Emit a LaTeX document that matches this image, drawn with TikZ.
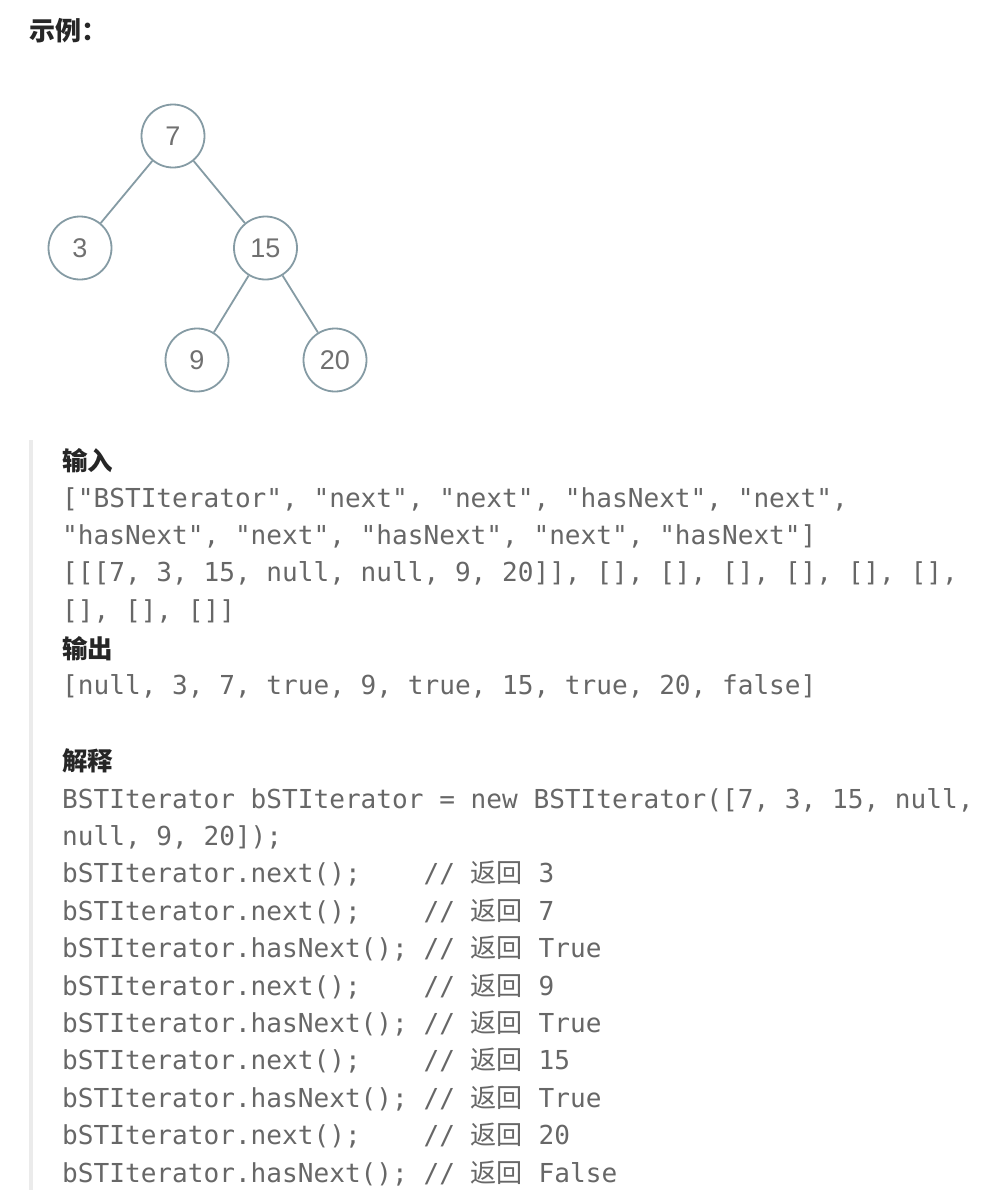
\documentclass[tikz,border=0pt]{standalone}
\usepackage{fontspec}
\setmainfont{Liberation Sans}
\newfontfamily\cjk{Noto Sans CJK SC}
\newfontfamily\mono{DejaVu Sans Mono}
\definecolor{headcol}{HTML}{262626}
\definecolor{codecol}{HTML}{676767}
\definecolor{circcol}{HTML}{859BA4}
\definecolor{digitcol}{HTML}{707070}
\definecolor{barcol}{HTML}{EBEBEB}
\tikzset{
  tnode/.style={circle, draw=circcol, line width=1.8pt, minimum size=63pt, inner sep=0pt,
    text=digitcol, font=\fontsize{27}{30}\selectfont},
  tedge/.style={draw=circcol, line width=1.8pt},
  code/.style={anchor=base west, inner sep=0pt, text=codecol,
    font=\mono\fontsize{26.1}{30}\selectfont},
  head/.style={anchor=base west, inner sep=0pt, text=headcol,
    font=\cjk\bfseries\fontsize{25.5}{30}\selectfont},
}
\begin{document}
\begin{tikzpicture}[x=1pt,y=-1pt]
\fill[white] (0,0) rectangle (993,1203);
\useasboundingbox (0,0) rectangle (993,1203);
% title
\node[head, font=\cjk\bfseries\fontsize{26}{30}\selectfont] (title) at (29,40) {示例：};
% tree
\node[tnode] (n7) at (173,136) {7};
\node[tnode] (n3) at (80,248) {3};
\node[tnode] (n15) at (265.5,248) {15};
\node[tnode] (n9) at (197,360) {9};
\node[tnode] (n20) at (335,360) {20};
\draw[tedge] (n7) -- (n3);
\draw[tedge] (n7) -- (n15);
\draw[tedge] (n15) -- (n9);
\draw[tedge] (n15) -- (n20);
% quote bar
\fill[barcol] (29,440) rectangle (33,1190);
% input
\node[head] (hin) at (62,470) {输入};
\node[code] (l1) at (62,507) {["BSTIterator", "next", "next", "hasNext", "next",};
\node[code] (l2) at (62,544.4) {"hasNext", "next", "hasNext", "next", "hasNext"]};
\node[code] (l3) at (62,581.8) {[[[7, 3, 15, null, null, 9, 20]], [], [], [], [], [], [],};
\node[code] (l4) at (62,619.2) {[], [], []]};
% output
\node[head] (hout) at (62,658) {输出};
\node[code] (l5) at (62,694) {[null, 3, 7, true, 9, true, 15, true, 20, false]};
% explanation
\node[head] (hexp) at (62,770) {解释};
\node[code] (e1) at (62,808) {BSTIterator bSTIterator = new BSTIterator([7, 3, 15, null,};
\node[code] (e2) at (62,845.4) {null, 9, 20]);};
\node[code] (e3) at (62,882.8) {bSTIterator.next();~~~~// {\cjk 返回} 3};
\node[code] (e4) at (62,920.2) {bSTIterator.next();~~~~// {\cjk 返回} 7};
\node[code] (e5) at (62,957.6) {bSTIterator.hasNext();~// {\cjk 返回} True};
\node[code] (e6) at (62,995) {bSTIterator.next();~~~~// {\cjk 返回} 9};
\node[code] (e7) at (62,1032.4) {bSTIterator.hasNext();~// {\cjk 返回} True};
\node[code] (e8) at (62,1069.8) {bSTIterator.next();~~~~// {\cjk 返回} 15};
\node[code] (e9) at (62,1107.2) {bSTIterator.hasNext();~// {\cjk 返回} True};
\node[code] (e10) at (62,1144.6) {bSTIterator.next();~~~~// {\cjk 返回} 20};
\node[code] (e11) at (62,1182) {bSTIterator.hasNext();~// {\cjk 返回} False};
\end{tikzpicture}
\end{document}
